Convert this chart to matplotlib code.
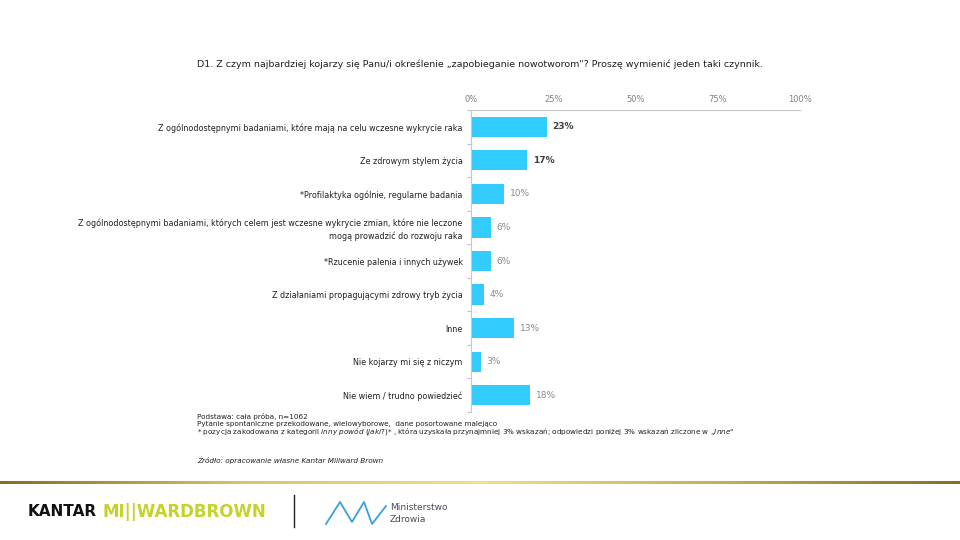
import numpy as np
from matplotlib import pyplot as plt
from matplotlib.colors import LinearSegmentedColormap

categories = [
    'Z ogólnodostępnymi badaniami, które mają na celu wczesne wykrycie raka',
    'Ze zdrowym stylem życia',
    '*Profilaktyka ogólnie, regularne badania',
    'Z ogólnodostępnymi badaniami, których celem jest wczesne wykrycie zmian, które nie leczone\nmogą prowadzić do rozwoju raka',
    '*Rzucenie palenia i innych używek',
    'Z działaniami propagującymi zdrowy tryb życia',
    'Inne',
    'Nie kojarzy mi się z niczym',
    'Nie wiem / trudno powiedzieć',
]
values = [23, 17, 10, 6, 6, 4, 13, 3, 18]
ticks = [0, 25, 50, 75, 100]
tick_labels = ['0%', '25%', '50%', '75%', '100%']

title = 'D1. Z czym najbardziej kojarzy się Panu/i określenie \u201ezapobieganie nowotworom"? Proszę wymienić jeden taki czynnik.'
notes = [
    'Podstawa: cała próba, n=1062',
    'Pytanie spontaniczne przekodowane, wielowyborowe,  dane posortowane malejąco',
]

bar_color = '#33CCFF'

fig = plt.figure(figsize=(9.6, 5.4), dpi=100)
plt.rcParams['font.family'] = ['DejaVu Sans']

ax = fig.add_axes([0.4906, 0.237, 0.3427, 0.5593])
y = np.arange(len(categories))
ax.barh(y, values, height=0.6, color=bar_color)
ax.set_ylim(len(categories) - 0.5, -0.5)
ax.set_xlim(0, 100)

ax.xaxis.tick_top()
ax.set_xticks(ticks)
ax.set_xticklabels(tick_labels, fontsize=6, color='#808080')
ax.tick_params(axis='x', length=0, pad=4)
ax.set_yticks(y)
ax.set_yticklabels(categories, fontsize=5.8, color='#202020', linespacing=1.35)
ax.tick_params(axis='y', length=0, pad=6)
ax.set_yticks(np.arange(len(categories) + 1) - 0.5, minor=True)
ax.tick_params(axis='y', which='minor', length=3, color='#bfbfbf', width=0.8)

for s in ['right', 'bottom']:
    ax.spines[s].set_visible(False)
ax.spines['top'].set_color('#c8c8c8')
ax.spines['left'].set_color('#c8c8c8')

for i, v in enumerate(values):
    strong = i < 2
    ax.text(v + 1.8, i, f'{v}%', va='center', ha='left', fontsize=6.5,
            color='#404040' if strong else '#8a8a8a',
            fontweight='bold' if strong else 'normal')

fig.text(0.5, 0.881, title, ha='center', va='center', fontsize=6.8, color='#202020')

ny = 1 - 416 / 540
for k, n in enumerate(notes):
    fig.text(0.2052, ny - k * 0.0148, n, fontsize=5.2, color='#202020', va='center')
fig.text(0.2052, ny - 2 * 0.0148,
         '* pozycja zakodowana z kategorii $\\it{inny\\ powód\\ (jaki?)}$* , która uzyskała przynajmniej 3% wskazań; '
         'odpowiedzi poniżej 3% wskazań zliczone w \u201e$\\it{Inne}$"',
         fontsize=5.2, color='#202020', va='center')
fig.text(0.2052, 1 - 460 / 540, 'Źródło: opracowanie własne Kantar Millward Brown',
         fontsize=5.2, color='#202020', va='center', style='italic')

# gold line above footer
gold = LinearSegmentedColormap.from_list('gold', ['#8a6d20', '#d9c46a', '#f3df8a', '#c9ad58', '#8a6d22'])
lax = fig.add_axes([0, 1 - 484 / 540, 1, 3 / 540])
lax.imshow(np.linspace(0, 1, 256).reshape(1, -1), aspect='auto', cmap=gold)
lax.axis('off')

# logos
ly = 1 - 512 / 540
fig.text(28 / 960, ly, 'KANTAR', fontsize=11, fontweight='bold', color='#111111', va='center')
fig.text(102 / 960, ly, 'MI||WARDBROWN', fontsize=12, fontweight='bold', color='#c5d22a', va='center')
fig.add_artist(plt.Line2D([294 / 960, 294 / 960], [1 - 495 / 540, 1 - 527 / 540], color='#222222', lw=1))
zx = np.array([326, 340, 352, 364, 372, 386]) / 960
zy = 1 - np.array([524, 502, 522, 502, 524, 506]) / 540
fig.add_artist(plt.Line2D(zx, zy, color='#3aa0d8', lw=1.3))
fig.text(390 / 960, 1 - 507 / 540, 'Ministerstwo', fontsize=6.5, color='#4a4a5a', va='center')
fig.text(390 / 960, 1 - 519 / 540, 'Zdrowia', fontsize=6.5, color='#4a4a5a', va='center')

fig.savefig('out.png', dpi=100, facecolor='white')
